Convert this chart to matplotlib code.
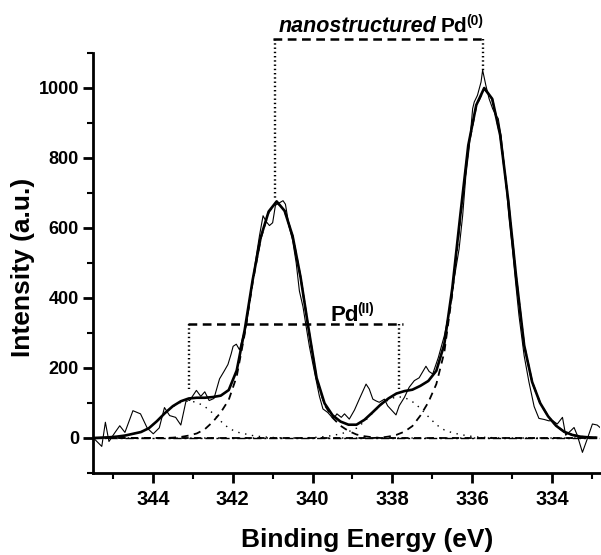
import matplotlib
matplotlib.use("Agg")
import matplotlib.pyplot as plt
import numpy as np

# ---------------- data ----------------
# common energy grid for the fitted curves (eV)
energy = [345.5, 345.3, 345.1, 344.9, 344.7, 344.5, 344.3, 344.1, 343.9, 343.7,
          343.5, 343.3, 343.1, 342.9, 342.7, 342.5, 342.3, 342.1, 341.9, 341.7,
          341.5, 341.3, 341.1, 340.9, 340.7, 340.5, 340.3, 340.1, 339.9, 339.7,
          339.5, 339.3, 339.1, 338.9, 338.7, 338.5, 338.3, 338.1, 337.9, 337.7,
          337.5, 337.3, 337.1, 336.9, 336.7, 336.5, 336.3, 336.1, 335.9, 335.7,
          335.5, 335.3, 335.1, 334.9, 334.7, 334.5, 334.3, 334.1, 333.9, 333.7,
          333.5, 333.3, 333.1, 332.9]

# Pd(0) 3d5/2 component (dashed)
pd0_a = [0] * 36 + [1, 4, 9, 18, 34, 64, 102, 154, 245, 413, 626, 830, 948, 998,
                    968, 865, 680, 460, 265, 160, 100, 62, 35, 18, 9, 4, 2, 1]
# Pd(0) 3d3/2 component (dashed)
pd0_b = [0] * 10 + [1, 3, 7, 13, 25, 46, 73, 109, 176, 297, 445, 569, 645, 675,
                    649, 577, 459, 311, 170, 95, 58, 35, 20, 10, 5, 2] + [0] * 28
# Pd(II) 3d3/2 component (dotted)
pd2_a = [0, 1, 2, 4, 7, 12, 17, 28, 48, 71, 90, 102, 106, 102, 90, 71, 48, 28,
         17, 12, 7, 4, 2, 1] + [0] * 40
# Pd(II) 3d5/2 component (dotted)
pd2_b = [0] * 27 + [1, 2, 4, 7, 12, 18, 28, 47, 71, 94, 109, 118, 116, 104, 85,
                    61, 38, 23, 15, 10, 6, 3, 2, 1] + [0] * 13

# raw (noisy) spectrum
raw_x = [345.49, 345.28, 345.19, 345.10, 344.96, 344.83, 344.70, 344.50, 344.31,
         344.14, 343.99, 343.84, 343.71, 343.58, 343.43, 343.30, 343.16, 343.08,
         342.91, 342.80, 342.70, 342.59, 342.47, 342.33, 342.22, 342.12, 342.04,
         341.99, 341.91, 341.83, 341.74, 341.66, 341.58, 341.50, 341.41, 341.33,
         341.24, 341.16, 341.08, 341.00, 340.93, 340.83, 340.74, 340.68, 340.58,
         340.50, 340.41, 340.33, 340.24, 340.16, 340.08, 339.99, 339.91, 339.83,
         339.74, 339.62, 339.52, 339.45, 339.39, 339.28, 339.20, 339.08, 338.95,
         338.83, 338.66, 338.58, 338.49, 338.41, 338.33, 338.20, 338.12, 337.91,
         337.83, 337.70, 337.58, 337.45, 337.33, 337.16, 337.08, 336.99, 336.85,
         336.70, 336.53, 336.45, 336.33, 336.24, 336.16, 336.08, 335.99, 335.95,
         335.87, 335.78, 335.74, 335.66, 335.58, 335.49, 335.41, 335.35, 335.28,
         335.16, 335.08, 334.99, 334.91, 334.83, 334.70, 334.58, 334.45, 334.33,
         334.20, 334.08, 333.99, 333.87, 333.74, 333.66, 333.53, 333.45, 333.37,
         333.24, 333.12, 332.99, 332.87, 332.80]
raw_y = [0, -24, 45, -10, 14, 35, 16, 78, 69,
         28, 12, 29, 87, 64, 59, 37, 111, 107,
         136, 119, 132, 107, 113, 169, 190, 210, 240,
         262, 268, 252, 292, 320, 385, 450, 520, 578,
         635, 618, 607, 615, 665, 672, 678, 668, 600,
         565, 500, 420, 375, 318, 262, 210, 165, 120,
         83, 73, 60, 59, 69, 59, 69, 54, 80,
         111, 154, 140, 111, 106, 102, 111, 92, 66,
         92, 116, 145, 164, 172, 205, 190, 183, 230,
         292, 388, 457, 540, 636, 750, 826, 941, 960,
         979, 1017, 1051, 1008, 970, 941, 922, 913, 865,
         733, 630, 535, 440, 350, 235, 160, 90, 56,
         53, 49, 50, 40, 59, 8, 21, 30, 8,
         -41, -3, 40, 37, 30]

# annotation brackets (eV / intensity)
pd0_bracket_x = [340.95, 335.72]
pd0_bracket_y = 1140
pd0_bracket_bottoms = [683, 1049]
pd2_bracket_x = [343.10, 337.84]
pd2_bracket_y = 326
pd2_bracket_bottoms = [140, 140]

x_major = [344, 342, 340, 338, 336, 334]
x_minor = [345, 343, 341, 339, 337, 335, 333]
y_major = [0, 200, 400, 600, 800, 1000]
y_minor = [-100, 100, 300, 500, 700, 900, 1100]

# ---------------- drawing ----------------
plt.rcParams['font.family'] = ['Liberation Sans', 'DejaVu Sans']

W, H = 601, 555
fig = plt.figure(figsize=(W / 100, H / 100), dpi=100)
ax = fig.add_axes([93 / W, 82 / H, (600 - 93) / W, (473 - 53) / H])

energy_a = np.array(energy)
envelope = np.array(pd0_a) + np.array(pd0_b) + np.array(pd2_a) + np.array(pd2_b)

ax.axhline(0, color='black', lw=1.0, ls=(0, (6, 2, 1.5, 2)), zorder=1)
ax.plot(energy_a, pd2_a, color='black', lw=1.0, ls=(0, (1, 4)), zorder=2)
ax.plot(energy_a, pd2_b, color='black', lw=1.0, ls=(0, (1, 4)), zorder=2)
ax.plot(energy_a, pd0_a, color='black', lw=1.3, ls=(0, (4, 3)), zorder=2)
ax.plot(energy_a, pd0_b, color='black', lw=1.3, ls=(0, (4, 3)), zorder=2)
ax.plot(raw_x, raw_y, color='black', lw=0.8, zorder=3)
ax.plot(energy_a, envelope, color='black', lw=1.9, zorder=4)

# brackets
ax.plot([pd0_bracket_x[0] + 0.03, pd0_bracket_x[1] - 0.02], [pd0_bracket_y] * 2,
        color='black', lw=1.8, ls=(0, (3.5, 2.2)), clip_on=False)
for bx, bb in zip(pd0_bracket_x, pd0_bracket_bottoms):
    ax.plot([bx, bx], [pd0_bracket_y, bb], color='black', lw=1.7,
            ls=(0, (0.6, 1.2)), clip_on=False)
ax.plot([pd2_bracket_x[0] + 0.03, pd2_bracket_x[1] - 0.1], [pd2_bracket_y] * 2,
        color='black', lw=1.8, ls=(0, (3.5, 2.2)), clip_on=False)
for bx, bb in zip(pd2_bracket_x, pd2_bracket_bottoms):
    ax.plot([bx, bx], [pd2_bracket_y, bb], color='black', lw=1.7,
            ls=(0, (0.6, 1.2)), clip_on=False)

# labels on the brackets (figure pixel positions)
def fx(px):
    return px / W

def fy(py):
    return 1 - py / H

fig.text(fx(436), fy(32), 'nanostructured', fontsize=15.5, fontweight='bold',
         fontstyle='italic', ha='right', va='baseline')
fig.text(fx(441), fy(32), 'Pd', fontsize=15, fontweight='bold',
         ha='left', va='baseline')
fig.text(fx(466), fy(25), '(0)', fontsize=10, fontweight='bold',
         ha='left', va='baseline')
fig.text(fx(330), fy(321), 'Pd', fontsize=16, fontweight='bold',
         ha='left', va='baseline')
fig.text(fx(357), fy(313), '(II)', fontsize=10, fontweight='bold',
         ha='left', va='baseline')

# axes styling
ax.set_xlim(345.5, 332.8)
ax.set_ylim(-100, 1100)
for s in ['top', 'right']:
    ax.spines[s].set_visible(False)
for s in ['left', 'bottom']:
    ax.spines[s].set_linewidth(2)

ax.set_xticks(x_major)
ax.set_xticks(x_minor, minor=True)
ax.set_yticks(y_major)
ax.set_yticks(y_minor, minor=True)
ax.tick_params(which='major', length=7, width=2, direction='out')
ax.tick_params(which='minor', length=4.5, width=1.5, direction='out')
ax.tick_params(axis='x', which='major', labelsize=14.5, pad=5)
ax.tick_params(axis='y', which='major', labelsize=13, pad=3)
for lab in ax.get_xticklabels() + ax.get_yticklabels():
    lab.set_fontweight('bold')

ax.set_xlabel('Binding Energy (eV)', fontsize=19, fontweight='bold')
ax.set_ylabel('Intensity (a.u.)', fontsize=19, fontweight='bold')
ax.xaxis.set_label_coords((367 - 93) / 507, -0.132)
ax.yaxis.set_label_coords(-0.115, 0.49)

fig.savefig('out.png', dpi=100)
